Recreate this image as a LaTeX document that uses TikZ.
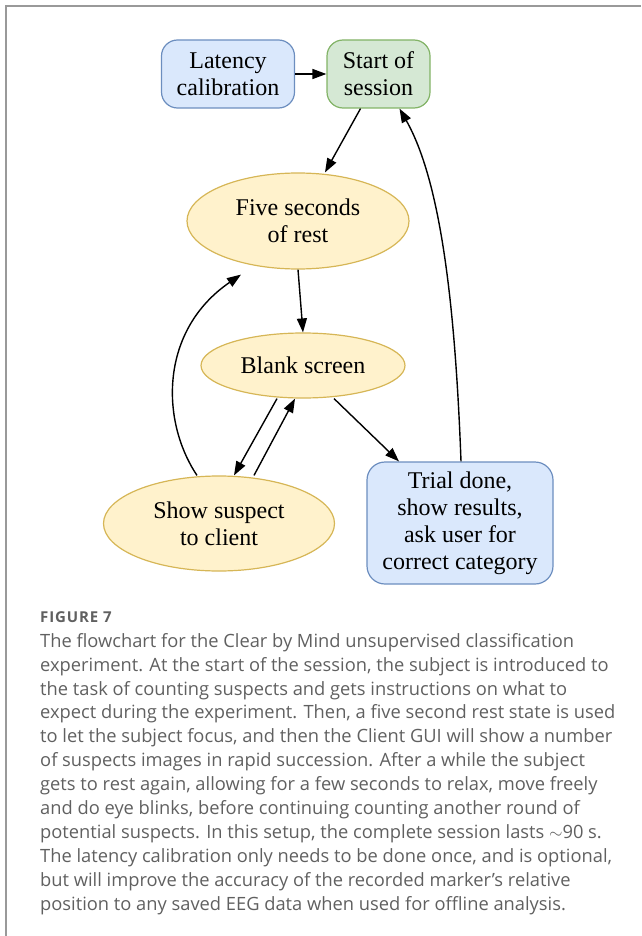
\documentclass[tikz,border=0pt]{standalone}
\usepackage{fontspec}
\setmainfont{Liberation Serif}
\newfontfamily\capfont{Open Sans}
\newfontfamily\figfont[LetterSpace=6]{Open Sans}
\usetikzlibrary{shapes.geometric,arrows.meta}
\definecolor{blueF}{HTML}{DAE8FC}\definecolor{blueD}{HTML}{6C8EBF}
\definecolor{greenF}{HTML}{D5E8D4}\definecolor{greenD}{HTML}{82B366}
\definecolor{yelF}{HTML}{FFF2CC}\definecolor{yelD}{HTML}{D6B656}
\definecolor{capgray}{HTML}{606060}\definecolor{framegray}{HTML}{999999}
\tikzset{
  lbl/.style={font=\fontsize{24}{27}\selectfont, align=center, inner sep=0pt},
  rbox/.style={lbl, rounded corners=16pt, line width=1.2pt},
  ell/.style={lbl, ellipse, draw=yelD, fill=yelF, line width=1.2pt},
  arr/.style={line width=1.4pt, -{Triangle[length=14pt,width=10pt]}}
}
\begin{document}
\begin{tikzpicture}[x=1pt,y=-1pt]
\useasboundingbox (0,0) rectangle (641,936);
\draw[framegray, line width=2pt] (6,936) -- (6,6) -- (641,6);
\node[rbox, draw=blueD, fill=blueF, minimum width=133pt, minimum height=68pt] (lat) at (228,74) {Latency\\calibration};
\node[rbox, draw=greenD, fill=greenF, minimum width=103pt, minimum height=68pt] (start) at (378.5,74) {Start of\\session};
\node[ell, minimum width=222pt, minimum height=96pt] (five) at (298,221) {Five seconds\\of rest};
\node[ell, minimum width=204pt, minimum height=65pt] (blank) at (303,365.5) {Blank screen};
\node[ell, minimum width=231pt, minimum height=95pt] (show) at (219,523.5) {Show suspect\\to client};
\node[rbox, draw=blueD, fill=blueF, minimum width=186pt, minimum height=122pt, rounded corners=18pt] (trial) at (460,523) {Trial done,\\show results,\\ask user for\\correct category};
\draw[arr] (lat.east) -- (start.west);
\draw[arr] ([xshift=-18pt]start.south) -- ([xshift=27pt]five.north);
\draw[arr] (five.south) -- (blank.north);
\draw[arr] ([xshift=-26pt]blank.south) -- ([xshift=15pt]show.north);
\draw[arr] ([xshift=35pt]show.north) -- ([xshift=-8pt]blank.south);
\draw[arr] ([xshift=31pt]blank.south) -- ([xshift=-61pt]trial.north);
\draw[arr] ([xshift=-22pt]show.north) .. controls (160,420) and (160,330) .. ([shift={(-57pt,-5pt)}]five.south);
\draw[arr] ([xshift=1pt]trial.north) .. controls (455,300) and (440,180) .. ([xshift=21pt]start.south);
\node[anchor=base west, inner sep=0pt, text=capgray, font=\figfont\bfseries\fontsize{15}{17}\selectfont] (figlbl) at (40,622.5) {FIGURE 7};
\node[anchor=north west, inner sep=0pt, text=capgray, align=left, font=\capfont\fontsize{18.3}{23.9}\selectfont] (cap) at (40,633) {The flowchart for the Clear by Mind unsupervised classification\\
experiment. At the start of the session, the subject is introduced to\\
the task of counting suspects and gets instructions on what to\\
expect during the experiment. Then, a five second rest state is used\\
to let the subject focus, and then the Client GUI will show a number\\
of suspects images in rapid succession. After a while the subject\\
gets to rest again, allowing for a few seconds to relax, move freely\\
and do eye blinks, before continuing counting another round of\\
potential suspects. In this setup, the complete session lasts $\sim$90 s.\\
The latency calibration only needs to be done once, and is optional,\\
but will improve the accuracy of the recorded marker’s relative\\
position to any saved EEG data when used for offline analysis.};
\end{tikzpicture}
\end{document}
